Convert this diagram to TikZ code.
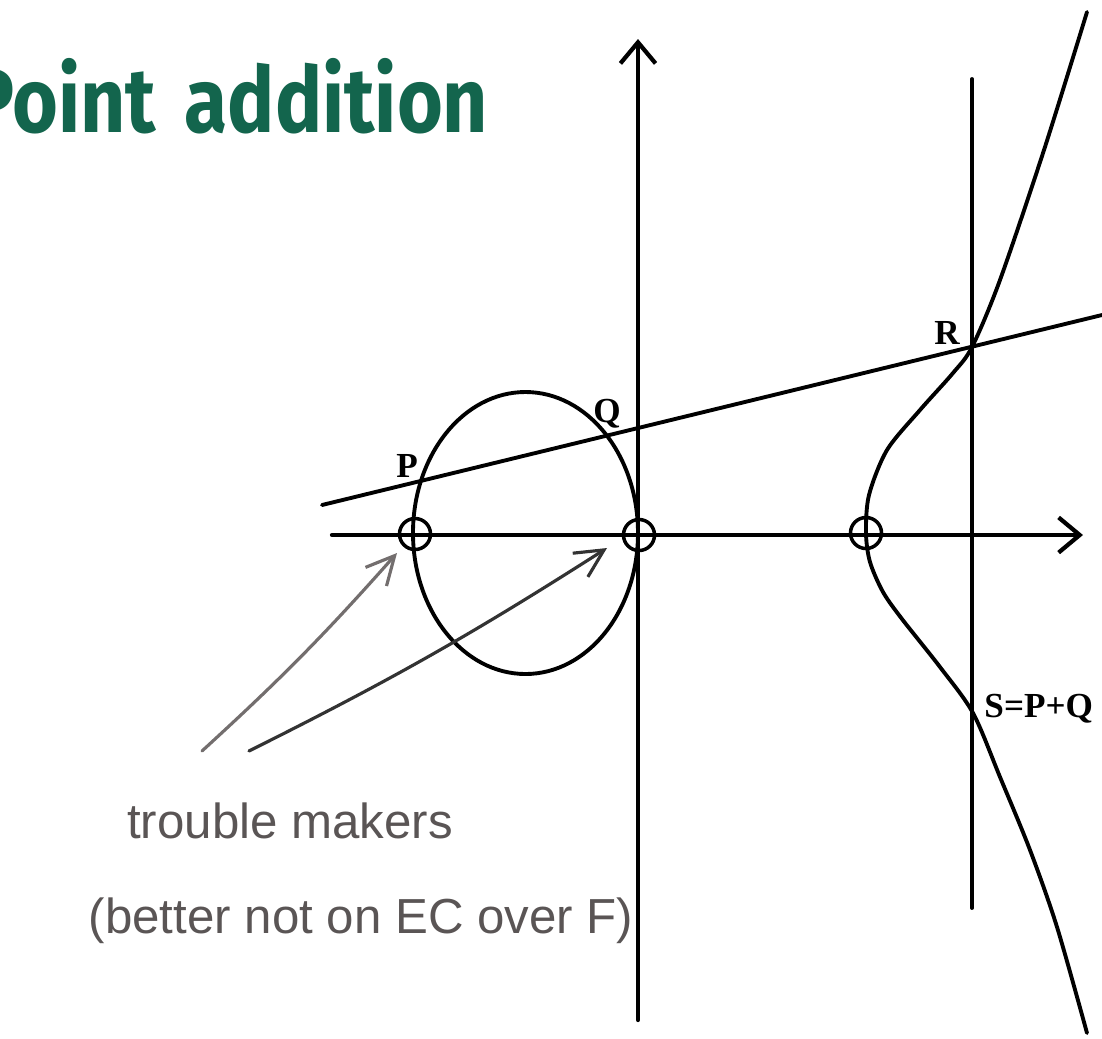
\documentclass[tikz,border=0pt]{standalone}
\usepackage{fontspec}
\setmainfont{Liberation Serif}
\newfontfamily\titlefont{Fira Sans}
\newfontfamily\handfont{Liberation Sans}
\usetikzlibrary{arrows.meta, positioning, calc}
\definecolor{TitleGreen}{HTML}{13654D}
\definecolor{PencilGrey}{HTML}{5A5555}

\begin{document}
\begin{tikzpicture}[x=0.01cm, y=-0.01cm, line width=1.1pt, line cap=round,
    axis/.style={-{Straight Barb[length=6pt,width=10pt]}, line width=1.2pt},
    pt/.style={font=\bfseries\fontsize{10}{12}\selectfont, inner sep=1pt},
    spot/.style={draw, circle, inner sep=0pt, minimum size=0.31cm, line width=1pt},
    hint/.style={-{Straight Barb[length=8pt,width=8pt]}, line width=0.9pt},
    note/.style={PencilGrey, font=\handfont\fontsize{14}{16}\selectfont, anchor=base}]
  \clip (0,0) rectangle (1102,1038);
  % Title
  \node[TitleGreen, font=\titlefont\bfseries\fontsize{26}{30}\selectfont,
    xscale=0.86, anchor=base east, inner sep=0pt] (title) at (490,132)
    {Point\hspace{0.12cm} addition};

  % Axes
  \coordinate (xl) at (332,535);
  \coordinate (xr) at (1083,535);
  \coordinate (yb) at (638,1020);
  \coordinate (yt) at (638,39);
  \draw[axis] (xl) -- (xr);
  \draw[axis] (yb) -- (yt);
  % Vertical line through R and S
  \coordinate (vt) at (972,79);
  \coordinate (vb) at (972,908);
  \draw (vt) -- (vb);

  % Bounded component
  \draw (525.5,533) ellipse [x radius=112.5, y radius=141];
  % Unbounded component
  \draw plot[smooth, tension=0.5] coordinates
    {(1087,12) (1044,150) (1000,280) (972,347) (953,373)
     (920,410) (887,450) (869,495) (866,533) (870,562) (883,592)
     (902,619) (940,667) (973,713) (1000,777) (1030,850) (1057,927)
     (1087,1033)};

  % Secant through P and Q
  \coordinate (sl) at (322,505);
  \coordinate (sr) at (1102,315);
  \draw (sl) -- (sr);
  \node[pt] (P) at (407,466) {P};
  \node[pt] (Q) at (607,414) {Q};
  \node[pt] (R) at (947,333) {R};
  \node[pt, anchor=west] (S) at (979,709) {S=P+Q};

  % Points of order two
  \node[spot] (t1) at (415,534) {};
  \node[spot] (t2) at (639,535) {};
  \node[spot] (t3) at (866,533) {};

  % Note
  \node[note] (note1) at (290,838) {trouble makers};
  \node[note] (note2) at (361,933) {(better not on EC over F)};
  \coordinate (h1) at (202,751);
  \coordinate (h2) at (249,751);
  \draw[hint, PencilGrey!85] (h1) to[bend right=3] ([shift={(-18,19)}]t1.center);
  \draw[hint, black!80] (h2) to[bend right=3] ([shift={(-32,13)}]t2.center);
\end{tikzpicture}
\end{document}
